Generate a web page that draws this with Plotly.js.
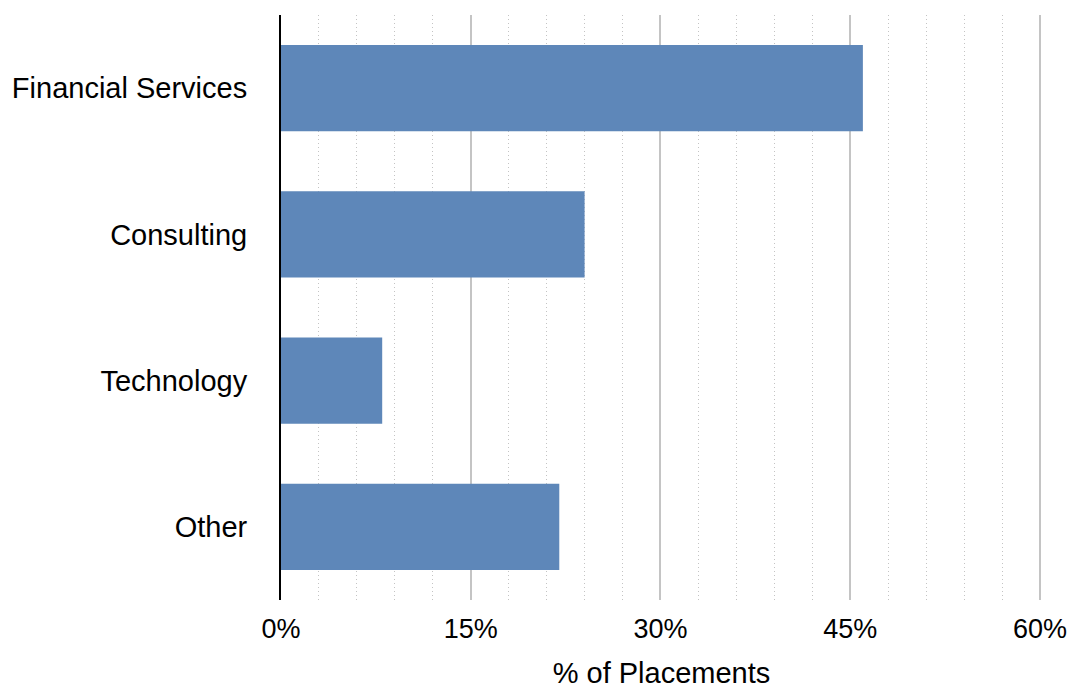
<!DOCTYPE html>
<html>
<head>
<meta charset="utf-8">
<script src="https://cdn.plot.ly/plotly-3.0.1.min.js"></script>
<style>html,body{margin:0;padding:0;background:#fff;}#chart{width:1077px;height:691px;}</style>
</head>
<body>
<div id="chart"></div>
<script>
const categories = ["Financial Services", "Consulting", "Technology", "Other"];
const placements = [46, 24, 8, 22];
const xTickVals = [0, 15, 30, 45, 60];
const xTickText = ["0%", "15%", "30%", "45%", "60%"];

const FONT = '"Liberation Sans", Arial, Helvetica, sans-serif';

const trace = {
  type: 'bar',
  orientation: 'h',
  y: categories,
  x: placements,
  marker: {color: '#5e87b9', line: {width: 0}},
  hoverinfo: 'none'
};

const layout = {
  width: 1077,
  height: 691,
  margin: {l: 281, r: 35, t: 15, b: 91, pad: 0},
  paper_bgcolor: '#ffffff',
  plot_bgcolor: '#ffffff',
  font: {family: FONT, color: '#000000'},
  bargap: 0.41,
  showlegend: false,
  xaxis: {
    range: [0, 60.16],
    tickvals: xTickVals,
    ticktext: xTickText,
    ticks: '',
    tickfont: {family: FONT, size: 27, color: '#000000'},
    ticklabelstandoff: 10,
    showgrid: true,
    gridcolor: '#c4c4c4',
    gridwidth: 2,
    zeroline: false,
    showline: false,
    minor: {dtick: 3, tick0: 0, showgrid: true, gridcolor: '#c4c4c4', gridwidth: 1, griddash: '1px,3px', ticks: ''},
    title: {text: '% of Placements', font: {family: FONT, size: 29, color: '#000000'}, standoff: 19},
    fixedrange: true
  },
  yaxis: {
    type: 'category',
    categoryorder: 'array',
    categoryarray: categories,
    range: [3.5, -0.5],
    ticks: '',
    tickfont: {family: FONT, size: 29, color: '#000000'},
    ticklabelstandoff: 26,
    showgrid: false,
    zeroline: false,
    showline: true,
    linecolor: '#000000',
    linewidth: 2,
    fixedrange: true
  }
};

Plotly.newPlot('chart', [trace], layout, {displayModeBar: false, staticPlot: true});
</script>
</body>
</html>
